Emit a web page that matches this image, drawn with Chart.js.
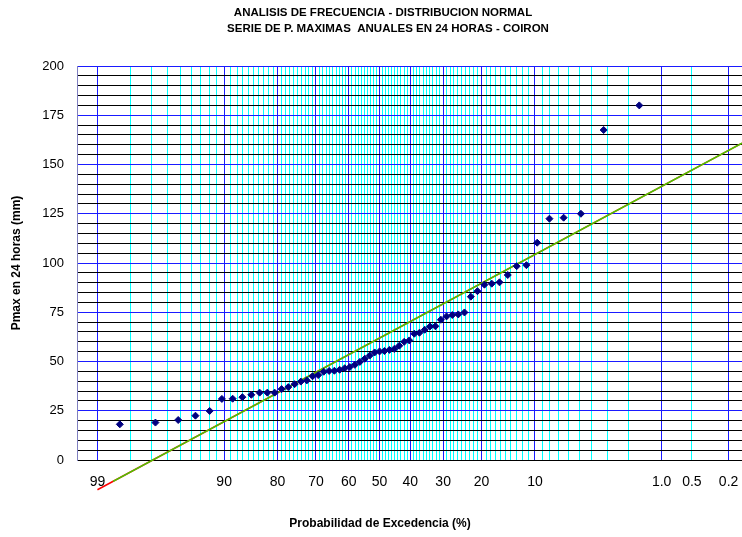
<!DOCTYPE html>
<html lang="es">
<head>
<meta charset="UTF-8">
<title>Analisis de frecuencia - Distribucion normal</title>
<script src="https://cdn.jsdelivr.net/npm/chart.js@4"></script>
<style>
  body { margin: 0; background: #fff; }
  #wrap { width: 742px; height: 537px; position: relative; }
</style>
</head>
<body>
<div id="wrap"><canvas id="chart"></canvas></div>
<script>
// Probabilidad de excedencia (%) de cada valor
const excedencia = [98.39, 96.77, 95.16, 93.55, 91.94, 90.32, 88.71, 87.10, 85.48, 83.87,
  82.26, 80.65, 79.03, 77.42, 75.81, 74.19, 72.58, 70.97, 69.35, 67.74,
  66.13, 64.52, 62.90, 61.29, 59.68, 58.06, 56.45, 54.84, 53.23, 51.61,
  50.00, 48.39, 46.77, 45.16, 43.55, 41.94, 40.32, 38.71, 37.10, 35.48,
  33.87, 32.26, 30.65, 29.03, 27.42, 25.81, 24.19, 22.58, 20.97, 19.35,
  17.74, 16.13, 14.52, 12.90, 11.29, 9.68, 8.06, 6.45, 4.84, 3.23, 1.61];

// Pmax en 24 horas (mm)
const pmax = [18.1, 19.0, 20.3, 22.5, 24.9, 31.0, 31.1, 31.9, 33.1, 34.2,
  34.2, 34.2, 36.0, 37.0, 38.5, 39.8, 40.4, 42.5, 43.1, 44.8,
  45.2, 45.3, 45.8, 46.6, 47.2, 48.3, 49.8, 51.4, 53.0, 54.6,
  55.1, 55.3, 55.9, 56.4, 58.0, 60.0, 60.7, 64.1, 64.6, 66.1,
  67.8, 67.9, 71.2, 72.9, 73.6, 73.9, 74.9, 82.9, 85.7, 89.0,
  89.5, 90.2, 93.9, 98.4, 98.9, 110.3, 122.5, 123.0, 125.0, 167.5, 180.0];

// recta de la distribucion normal ajustada
const fitMedia = 61.9;
const fitDesv = 33.1;
const rectaRoja = [99, 0.14];     // % excedencia, extremos
const rectaVerde = [98.6, 0.14];

// eje de probabilidad
const ejeX = [99.37, 0.14];
const etiquetasXPct = [99, 90, 80, 70, 60, 50, 40, 30, 20, 10, 1, 0.5, 0.2];
const etiquetasX = ['99', '90', '80', '70', '60', '50', '40', '30', '20', '10', '1.0', '0.5', '0.2'];
const lineasMayores = [99, 90, 80, 70, 60, 50, 40, 30, 20, 10, 1, 0.2];
const gridPct = [99];
for (let p = 98; p >= 2; p--) gridPct.push(p);
gridPct.push(1, 0.5, 0.2);

const titulo = ['ANALISIS DE FRECUENCIA - DISTRIBUCION NORMAL',
  'SERIE DE P. MAXIMAS  ANUALES EN 24 HORAS - COIRON'];
const tituloX = 'Probabilidad de Excedencia (%)';
const tituloY = 'Pmax en 24 horas (mm)';

const FONT = '"Liberation Sans", Arial, sans-serif';

// inversa de la normal estandar (Acklam)
function probit(p) {
  const a = [-3.969683028665376e+01, 2.209460984245205e+02, -2.759285104469687e+02, 1.383577518672690e+02, -3.066479806614716e+01, 2.506628277459239e+00];
  const b = [-5.447609879822406e+01, 1.615858368580409e+02, -1.556989798598866e+02, 6.680131188771972e+01, -1.328068155288572e+01];
  const c = [-7.784894002430293e-03, -3.223964580411365e-01, -2.400758277161838e+00, -2.549732539343734e+00, 4.374664141464968e+00, 2.938163982698783e+00];
  const d = [7.784695709041462e-03, 3.224671290700398e-01, 2.445134137142996e+00, 3.754408661907416e+00];
  const pl = 0.02425;
  let q, r;
  if (p < pl) {
    q = Math.sqrt(-2 * Math.log(p));
    return (((((c[0]*q+c[1])*q+c[2])*q+c[3])*q+c[4])*q+c[5]) / ((((d[0]*q+d[1])*q+d[2])*q+d[3])*q+1);
  }
  if (p > 1 - pl) {
    q = Math.sqrt(-2 * Math.log(1 - p));
    return -(((((c[0]*q+c[1])*q+c[2])*q+c[3])*q+c[4])*q+c[5]) / ((((d[0]*q+d[1])*q+d[2])*q+d[3])*q+1);
  }
  q = p - 0.5; r = q * q;
  return (((((a[0]*r+a[1])*r+a[2])*r+a[3])*r+a[4])*r+a[5])*q / (((((b[0]*r+b[1])*r+b[2])*r+b[3])*r+b[4])*r+1);
}
const zExc = pct => probit(1 - pct / 100);

const puntos = excedencia.map((e, i) => ({ x: zExc(e), y: pmax[i] }));
const recta = ends => ends.map(e => ({ x: zExc(e), y: fitMedia + fitDesv * zExc(e) }));

// titulos y rotulos de ejes
const textos = {
  id: 'textos',
  afterDraw(chart) {
    const ctx = chart.ctx;
    ctx.save();
    ctx.fillStyle = '#000';
    ctx.textAlign = 'center';
    ctx.textBaseline = 'middle';
    ctx.font = 'bold 11.5px ' + FONT;
    ctx.fillText(titulo[0], 383, 13);
    ctx.fillText(titulo[1], 388, 29);
    ctx.font = 'bold 12px ' + FONT;
    ctx.fillText(tituloX, 380, 524);
    ctx.translate(17, 263);
    ctx.rotate(-Math.PI / 2);
    ctx.fillText(tituloY, 0, 0);
    ctx.restore();
  }
};

new Chart(document.getElementById('chart'), {
  type: 'scatter',
  data: {
    datasets: [
      {
        data: puntos,
        pointStyle: 'rectRot',
        pointRadius: 3.5,
        pointBackgroundColor: '#000080',
        pointBorderColor: '#000080',
        pointBorderWidth: 1,
        order: 0
      },
      {
        data: recta(rectaVerde),
        showLine: true,
        borderColor: '#44cc00',
        borderWidth: 1.5,
        pointRadius: 0,
        clip: false,
        order: 1
      },
      {
        data: recta(rectaRoja),
        showLine: true,
        borderColor: '#ff0000',
        borderWidth: 1.5,
        pointRadius: 0,
        clip: false,
        order: 2
      }
    ]
  },
  options: {
    responsive: true,
    maintainAspectRatio: false,
    animation: false,
    layout: { autoPadding: false, padding: { top: 66, left: 0, right: 0, bottom: 0 } },
    plugins: {
      legend: { display: false },
      tooltip: { enabled: false },
      title: { display: false }
    },
    scales: {
      x: {
        type: 'linear',
        min: zExc(ejeX[0]),
        max: zExc(ejeX[1]),
        afterBuildTicks: s => { s.ticks = gridPct.map(p => ({ value: zExc(p) })); },
        afterFit: s => {
          s.height = 77;
          s.paddingLeft = 0;
          s.paddingRight = 0;
        },
        ticks: {
          autoSkip: false,
          maxRotation: 0,
          padding: 14,
          color: '#000',
          font: { family: FONT, size: 14 },
          callback: (v, i) => {
            const k = etiquetasXPct.indexOf(gridPct[i]);
            return k >= 0 ? etiquetasX[k] : '';
          }
        },
        grid: {
          drawTicks: false,
          lineWidth: 1,
          color: c => lineasMayores.includes(gridPct[c.index]) ? '#1a1aff' : '#00ffff'
        },
        border: { display: true, color: '#000', width: 1 }
      },
      y: {
        min: 0,
        max: 200,
        afterFit: s => {
          s.width = 77;
          s.paddingTop = 0;
          s.paddingBottom = 0;
        },
        ticks: {
          stepSize: 5,
          autoSkip: false,
          padding: 13,
          color: '#000',
          font: { family: FONT, size: 13 },
          callback: v => (v % 25 === 0 ? v : '')
        },
        grid: {
          drawTicks: false,
          lineWidth: 1,
          color: c => (c.tick.value % 25 === 0 && c.tick.value !== 0) ? '#1a1aff' : '#000000'
        },
        border: { display: true, color: '#8080c0', width: 1 }
      }
    }
  },
  plugins: [textos]
});
</script>
</body>
</html>
